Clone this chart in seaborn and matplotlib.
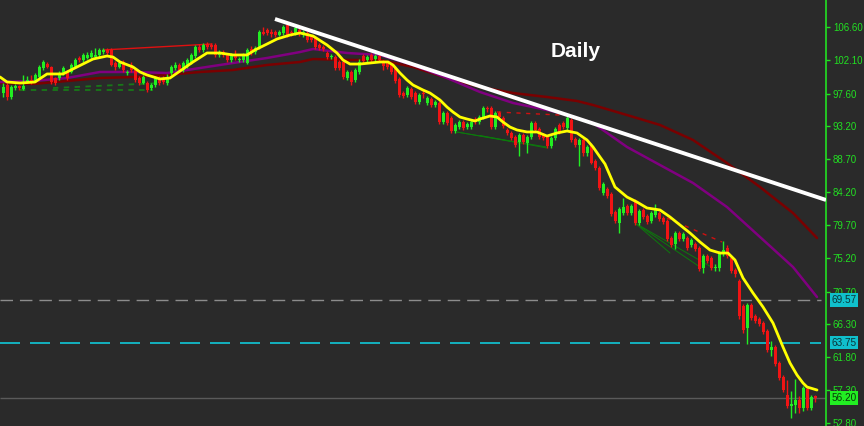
import matplotlib
matplotlib.use('Agg')
import matplotlib.pyplot as plt
import numpy as np
import pandas as pd
import seaborn as sns

# daily candles, oldest first
opens = [97.64, 98.73, 97.09, 98.32, 98.59, 98.18, 99.14, 99.41, 99.27, 99.82,
         101.05, 101.59, 101.18, 99.68, 99.68, 100.37, 100.50, 100.50, 101.18, 102.41,
         102.14, 102.41, 102.55, 102.55, 102.82, 103.23, 103.50, 103.50, 101.73, 101.18,
         101.87, 100.37, 101.46, 100.77, 99.68, 99.00, 99.00, 98.32, 98.73, 99.68,
         99.68, 99.00, 100.37, 101.05, 101.46, 100.77, 101.32, 101.87, 102.68, 103.91,
         103.50, 104.32, 104.18, 104.18, 102.82, 103.23, 102.82, 102.14, 102.82, 102.14,
         102.14, 101.73, 103.64, 103.23, 103.77, 105.96, 106.23, 105.96, 105.96, 105.55,
         105.82, 106.91, 105.96, 105.82, 106.23, 105.55, 105.82, 105.27, 105.14, 104.18,
         103.91, 103.09, 102.55, 102.55, 101.87, 101.87, 99.68, 100.50, 99.41, 100.50,
         102.68, 102.14, 102.82, 102.27, 102.68, 101.87, 101.73, 101.46, 101.05, 99.55,
         97.64, 97.37, 98.18, 97.64, 96.41, 97.64, 96.27, 96.82, 96.00, 96.27,
         93.68, 94.91, 94.23, 92.46, 93.00, 93.68, 93.00, 93.00, 94.09, 93.68,
         94.37, 95.59, 95.59, 93.00, 94.91, 94.23, 92.59, 92.18, 91.64, 90.96,
         91.91, 90.82, 91.64, 93.55, 92.73, 91.91, 91.64, 90.41, 91.50, 93.27,
         93.55, 92.87, 93.96, 91.37, 90.55, 91.23, 89.46, 90.55, 88.50, 87.55,
         84.14, 84.68, 84.00, 81.55, 80.05, 81.41, 82.37, 81.41, 83.05, 80.05,
         81.82, 81.00, 80.32, 81.14, 81.41, 80.73, 80.32, 78.00, 77.18, 78.68,
         77.87, 78.00, 77.05, 77.18, 76.64, 73.91, 75.55, 75.28, 73.91, 73.91,
         75.82, 76.64, 75.28, 73.64, 72.14, 68.73, 65.73, 68.87, 67.37, 66.96,
         66.41, 65.32, 62.73, 63.14, 60.96, 59.05, 56.59, 55.10, 55.23, 55.91,
         54.82, 57.41, 54.82, 56.45]
closes = [98.46, 97.09, 98.46, 98.59, 98.32, 98.59, 99.41, 99.14, 100.09, 101.18,
          101.87, 101.18, 99.14, 99.00, 100.37, 101.05, 99.68, 101.46, 102.14, 102.14,
          102.82, 102.82, 103.09, 102.82, 103.50, 103.50, 103.09, 101.46, 101.18, 101.73,
          100.77, 100.50, 100.77, 99.41, 99.00, 99.82, 98.05, 98.73, 99.68, 99.00,
          99.14, 99.68, 101.18, 101.46, 100.77, 101.73, 102.14, 102.82, 103.91, 103.50,
          104.18, 103.91, 103.91, 102.82, 103.23, 102.82, 102.14, 102.82, 102.41, 102.27,
          102.82, 103.50, 103.09, 103.77, 105.96, 105.68, 105.82, 105.68, 105.55, 105.96,
          106.64, 105.55, 105.82, 106.50, 105.68, 105.96, 104.87, 104.87, 103.91, 103.77,
          103.64, 102.55, 102.68, 101.05, 101.05, 99.82, 100.50, 99.14, 100.77, 101.87,
          102.00, 102.55, 102.14, 102.68, 102.14, 101.32, 101.18, 100.50, 99.27, 97.37,
          97.23, 98.32, 97.09, 96.41, 97.37, 97.50, 96.96, 96.00, 96.41, 93.68,
          94.91, 93.55, 92.46, 93.27, 93.68, 92.87, 93.41, 93.68, 93.68, 94.37,
          95.59, 95.46, 93.00, 94.91, 94.37, 93.14, 92.18, 91.50, 90.55, 91.91,
          90.96, 91.64, 93.55, 92.59, 91.64, 91.50, 90.41, 91.50, 92.73, 92.32,
          93.00, 94.23, 91.23, 90.55, 91.23, 89.46, 90.27, 88.23, 87.55, 84.82,
          85.37, 83.73, 81.28, 80.32, 81.96, 82.23, 81.41, 82.37, 80.05, 81.68,
          80.87, 80.18, 81.41, 81.82, 80.59, 80.18, 77.87, 77.05, 78.68, 77.87,
          78.55, 76.64, 77.73, 76.50, 73.77, 75.55, 74.87, 73.91, 74.05, 75.96,
          76.37, 75.55, 73.50, 73.09, 67.37, 65.46, 68.87, 67.09, 66.68, 66.28,
          65.18, 62.73, 63.14, 60.82, 58.91, 57.27, 55.10, 55.37, 55.91, 54.82,
          57.55, 54.82, 56.32, 56.20]
highs = [99.00, 99.00, 98.73, 98.87, 98.73, 100.09, 99.96, 100.09, 100.37, 101.46,
         102.14, 101.87, 101.32, 99.82, 100.64, 101.32, 100.77, 101.73, 102.41, 102.68,
         103.09, 103.23, 103.50, 103.77, 103.77, 103.77, 103.77, 103.77, 102.00, 102.00,
         102.14, 100.77, 101.87, 101.05, 99.96, 100.09, 99.27, 99.00, 99.96, 99.96,
         99.96, 100.23, 101.46, 101.87, 101.73, 102.00, 102.41, 103.09, 104.18, 104.32,
         104.46, 104.59, 104.46, 104.46, 103.50, 103.50, 103.09, 103.09, 103.50, 102.55,
         103.09, 103.77, 104.05, 104.05, 106.23, 106.64, 106.50, 106.37, 106.23, 106.23,
         106.91, 107.18, 106.23, 106.77, 106.50, 106.23, 106.09, 105.55, 105.41, 104.46,
         104.18, 103.36, 102.96, 102.82, 102.14, 102.14, 100.77, 100.77, 101.05, 102.27,
         102.96, 102.82, 103.09, 102.96, 102.96, 102.14, 102.00, 101.73, 101.32, 99.82,
         97.91, 98.59, 98.46, 97.91, 97.64, 98.05, 97.23, 97.09, 96.68, 96.55,
         95.18, 95.18, 94.50, 93.55, 93.96, 93.96, 93.68, 93.96, 94.37, 94.64,
         95.87, 95.87, 95.87, 95.18, 95.18, 94.50, 92.87, 92.46, 91.91, 92.18,
         92.18, 91.91, 93.82, 93.82, 93.00, 92.18, 91.91, 91.77, 93.00, 93.55,
         93.82, 94.50, 94.23, 91.64, 91.50, 91.50, 90.55, 90.82, 88.77, 87.82,
         85.64, 84.96, 84.27, 81.82, 82.23, 83.46, 82.64, 82.64, 83.32, 81.96,
         82.09, 81.28, 81.68, 82.64, 81.68, 81.00, 80.59, 78.27, 78.96, 78.96,
         78.82, 78.27, 78.00, 77.46, 76.91, 75.82, 75.82, 75.55, 74.46, 76.23,
         77.59, 77.05, 75.55, 73.91, 72.41, 69.00, 69.14, 69.14, 67.64, 67.23,
         66.68, 65.59, 63.96, 63.41, 61.23, 59.32, 58.64, 57.14, 58.78, 56.46,
         57.82, 57.68, 56.59, 56.59]
lows = [97.09, 96.68, 96.82, 98.05, 98.05, 98.05, 99.00, 98.87, 99.14, 99.68,
        100.77, 101.05, 98.87, 98.73, 99.41, 100.09, 99.41, 100.37, 101.05, 101.87,
        101.87, 102.27, 102.41, 102.41, 102.55, 102.96, 102.82, 101.32, 100.77, 101.05,
        100.50, 100.09, 100.50, 99.14, 98.73, 98.87, 97.77, 98.05, 98.46, 98.73,
        98.87, 98.73, 100.09, 100.77, 100.50, 100.50, 101.05, 101.59, 102.41, 103.23,
        103.23, 103.64, 103.64, 102.55, 102.55, 102.55, 101.87, 101.87, 102.14, 101.87,
        101.87, 101.59, 102.82, 102.96, 103.64, 105.55, 105.55, 105.27, 105.27, 105.41,
        105.55, 105.27, 105.41, 105.55, 105.41, 105.27, 104.59, 104.59, 103.64, 103.50,
        103.36, 102.27, 102.27, 100.77, 100.77, 99.55, 99.41, 98.73, 99.14, 100.23,
        101.73, 101.87, 101.87, 102.00, 101.87, 100.77, 100.91, 100.23, 99.00, 97.09,
        96.96, 97.09, 96.82, 96.14, 96.14, 96.96, 96.00, 95.73, 95.73, 93.41,
        93.41, 93.27, 92.18, 92.18, 92.73, 92.59, 92.73, 92.73, 93.41, 93.41,
        94.09, 95.05, 92.73, 92.73, 94.09, 92.87, 91.91, 91.23, 90.27, 89.18,
        90.68, 89.46, 91.37, 92.32, 91.37, 91.23, 90.14, 90.14, 91.23, 92.05,
        92.73, 92.59, 90.96, 90.27, 87.82, 89.18, 89.18, 87.96, 87.27, 84.55,
        83.87, 83.46, 81.00, 80.05, 78.68, 81.14, 81.14, 81.14, 79.78, 79.78,
        80.59, 79.91, 80.05, 80.87, 80.32, 79.91, 77.59, 76.77, 76.50, 77.59,
        77.59, 76.37, 76.77, 76.23, 73.50, 73.23, 74.59, 73.64, 73.50, 73.50,
        75.55, 75.28, 73.23, 72.68, 66.96, 65.05, 63.55, 66.82, 66.41, 66.00,
        64.91, 62.46, 61.91, 60.55, 58.64, 57.00, 54.82, 53.46, 54.14, 54.14,
        54.41, 54.55, 54.55, 55.64]

# moving averages (bar index, price)
ema_fast_x = [-0.75, 1.0, 4.25, 8.0, 11.0, 15.0, 18.5, 22.5, 26.0, 27.5, 29.25, 32.5, 34.25, 36.0,
              39.25, 41.75, 44.25, 47.5, 51.0, 54.25, 57.5, 61.0, 63.0, 66.0, 68.5, 71.75, 74.25,
              77.5, 81.0, 83.5, 85.0, 86.75, 89.25, 91.75, 94.25, 96.25, 97.5, 99.25, 101.0, 102.5,
              105.0, 106.75, 109.25, 111.0, 112.5, 114.25, 116.0, 118.0, 119.25, 121.75, 123.5,
              125.0, 126.75, 128.5, 131.0, 133.5, 136.0, 138.5, 141.0, 143.5, 146.0, 147.5, 149.25,
              150.5, 153.0, 156.0, 158.5, 161.0, 164.25, 166.75, 169.25, 171.75, 174.25, 176.75,
              179.25, 181.25, 183.0, 185.0, 187.5, 190.0, 192.5, 195.0, 196.75, 198.5, 200.0,
              201.0, 203.5]
ema_fast_y = [99.85, 99.17, 99.03, 99.17, 100.26, 100.26, 101.21, 102.29, 102.70, 102.56, 101.89,
              101.21, 100.53, 100.12, 99.58, 99.71, 100.66, 101.89, 103.11, 103.11, 102.84, 102.84,
              103.52, 104.33, 105.01, 105.55, 105.83, 105.42, 104.20, 103.11, 102.16, 101.61,
              101.61, 101.75, 101.89, 101.89, 101.48, 100.39, 99.44, 98.76, 98.08, 97.67, 96.72,
              95.77, 95.09, 94.41, 94.14, 93.87, 94.14, 94.55, 94.41, 93.73, 93.05, 92.65, 92.38,
              92.38, 91.83, 92.24, 92.51, 92.24, 91.29, 90.34, 88.98, 88.03, 84.90, 83.54, 82.86,
              82.05, 81.78, 80.83, 79.74, 78.65, 77.43, 76.34, 75.93, 75.93, 74.98, 72.54, 70.50,
              68.60, 66.42, 63.16, 60.99, 59.36, 58.27, 57.73, 57.32]
ma_mid_x = [-0.75, 7.5, 16.0, 24.25, 32.5, 41.0, 49.25, 57.5, 66.0, 74.25, 77.5, 86.0, 94.25,
            102.5, 111.0, 119.25, 127.5, 136.0, 139.25, 147.5, 156.0, 164.25, 172.5, 181.0,
            189.25, 197.5, 203.5]
ma_mid_y = [99.17, 99.30, 99.71, 100.53, 100.53, 100.39, 101.07, 101.75, 102.43, 103.24, 103.65,
            103.11, 102.84, 101.48, 99.71, 97.81, 96.32, 95.36, 94.96, 93.60, 90.34, 87.89, 85.45,
            82.18, 78.11, 74.03, 69.96]
ma_slow_x = [-0.75, 7.5, 16.0, 24.25, 32.5, 41.0, 49.25, 57.5, 66.0, 74.25, 77.5, 86.0, 94.25,
             102.5, 111.0, 119.25, 127.5, 136.0, 143.5, 147.5, 156.0, 164.25, 172.5, 181.0,
             189.25, 197.5, 203.5]
ma_slow_y = [99.03, 98.90, 99.31, 99.71, 99.85, 100.12, 100.53, 100.80, 101.48, 101.89, 102.29,
             102.16, 102.16, 101.21, 99.71, 98.49, 97.67, 97.13, 96.59, 96.04, 94.68, 93.33, 91.29,
             88.16, 84.90, 81.37, 77.97]

# drawn objects
trend_x = [68.0, 205.75]
trend_y = [107.73, 83.14]
level_grey = 69.57
level_cyan = 63.75
last_price = 56.20
green_fan = [((113.5, 92.37), (136.0, 90.33)), ((113.5, 92.37), (129.25, 90.87)),
             ((119.25, 91.9), (136.0, 90.2)), ((158.0, 80.01), (166.75, 75.93)),
             ((158.0, 80.01), (174.25, 74.03)), ((158.0, 80.01), (177.5, 73.9))]
green_dash = [((4.25, 98.08), (37.5, 98.08)), ((12.5, 98.35), (39.25, 99.03))]
red_dash = [((123.5, 95.09), (139.25, 94.68)), ((166.0, 80.69), (179.75, 77.43))]
red_line = [((25.0, 103.52), (52.25, 104.33))]

tick_vals = [106.60, 102.10, 97.60, 93.20, 88.70, 84.20, 79.70, 75.20, 70.70, 66.30, 61.80, 57.30, 52.80]
tick_labels = ['106.60', '102.10', '97.60', '93.20', '88.70', '84.20', '79.70', '75.20',
               '70.70', '66.30', '61.80', '57.30', '52.80']

BG = '#2a2a2a'
UP = '#22ee22'
DOWN = '#f01414'
AXIS_GREEN = '#22e022'

sns.set_style('dark', {'axes.facecolor': BG, 'figure.facecolor': BG})
plt.rcParams['font.family'] = ['Liberation Sans', 'DejaVu Sans']

df = pd.DataFrame({'open': opens, 'high': highs, 'low': lows, 'close': closes})
df['idx'] = np.arange(len(df))
colors = np.where(df['close'] >= df['open'], UP, DOWN)
body_low = df[['open', 'close']].min(axis=1)
body_h = (df['close'] - df['open']).abs().clip(lower=0.18)

fig = plt.figure(figsize=(8.64, 4.26), dpi=100)
ax = fig.add_axes([0, 0, 826 / 864, 1])
ax.set_facecolor(BG)

# horizontal levels
ax.hlines(level_grey, -0.75, 204.5, colors='#8c8c8c', linestyles=(0, (9, 5)), lw=1, zorder=1)
ax.hlines(level_cyan, -0.75, 204.5, colors='#10c8d8', linestyles=(0, (12, 6)), lw=1.2, zorder=1)
ax.hlines(last_price, -0.75, 205.75, colors='#5a5a5a', lw=1, zorder=1)

# drawings
for (x0, y0), (x1, y1) in green_fan:
    ax.plot([x0, x1], [y0, y1], color='#0c7a0c', lw=0.7, zorder=2)
for (x0, y0), (x1, y1) in green_dash:
    ax.plot([x0, x1], [y0, y1], color='#187818', lw=1.3, ls=(0, (3, 3)), zorder=2)
for (x0, y0), (x1, y1) in red_dash:
    ax.plot([x0, x1], [y0, y1], color='#d01010', lw=1, ls=(0, (3, 4)), zorder=2)
for (x0, y0), (x1, y1) in red_line:
    ax.plot([x0, x1], [y0, y1], color='#e01010', lw=1, zorder=2)

# moving averages
sns.lineplot(x=ma_slow_x, y=ma_slow_y, color='#7a0000', lw=1.8, sort=False, ax=ax, zorder=3)
sns.lineplot(x=ma_mid_x, y=ma_mid_y, color='#800080', lw=1.8, sort=False, ax=ax, zorder=3)

# candles
ax.vlines(df['idx'], df['low'], df['high'], colors=colors, lw=1, zorder=4)
ax.bar(df['idx'], body_h, bottom=body_low, width=0.75, color=colors, linewidth=0, zorder=5)

sns.lineplot(x=ema_fast_x, y=ema_fast_y, color='#ffff00', lw=2.0, sort=False, ax=ax, zorder=6)
ax.plot(trend_x, trend_y, color='white', lw=2.8, solid_capstyle='butt', zorder=7)

ax.set_xlim(-0.75, 205.75)
ax.set_ylim(52.43, 110.31)
ax.set_xticks([])
ax.yaxis.tick_right()
ax.set_yticks(tick_vals)
ax.set_yticklabels(tick_labels)
ax.tick_params(axis='y', colors=AXIS_GREEN, labelcolor=AXIS_GREEN, labelsize=7,
               length=3, width=1, pad=2, direction='out')
for side in ['left', 'top', 'bottom']:
    ax.spines[side].set_visible(False)
ax.spines['right'].set_visible(True)
ax.spines['right'].set_color(AXIS_GREEN)
ax.spines['right'].set_linewidth(1.2)
ax.set_xlabel('')
ax.set_ylabel('')

ytr = ax.get_yaxis_transform()
for val, fc, tc in [(level_grey, '#10c0cc', '#0b3438'), (level_cyan, '#10c0cc', '#0b3438'),
                    (last_price, '#22ee22', '#0a3a0a')]:
    ax.text(1.0065, val, f'{val:.2f}', transform=ytr, ha='left', va='center', fontsize=7.2,
            color=tc, zorder=10,
            bbox=dict(boxstyle='square,pad=0.18', fc=fc, ec='none'))

ax.text(0.697, 0.878, 'Daily', transform=ax.transAxes, ha='center', va='center',
        color='white', fontsize=15, fontweight='bold')

fig.savefig('out.png', dpi=100, facecolor=BG)
